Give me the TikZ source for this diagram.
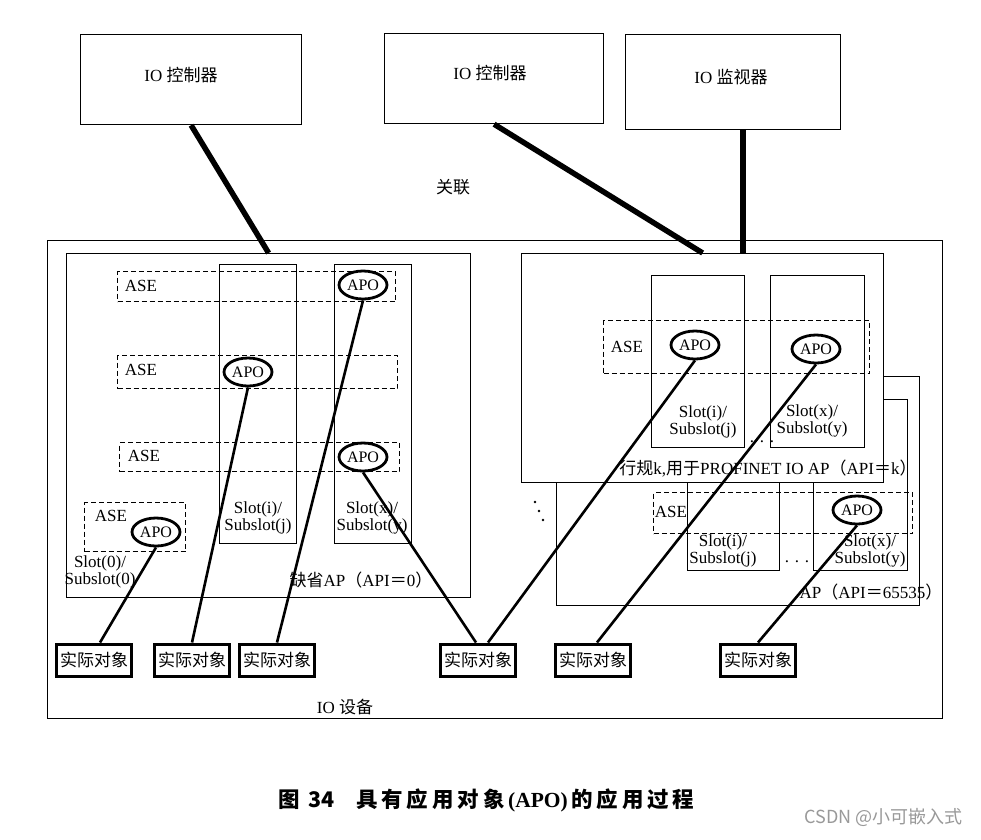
\documentclass[tikz,border=0pt]{standalone}
\usepackage{fontspec}
\setmainfont{Liberation Serif}
\newfontfamily\cjk{Noto Sans CJK SC}
\newfontfamily\capfont[LetterSpace=18]{Noto Sans CJK SC}
\newcommand{\zh}[1]{{\cjk #1}}
\usetikzlibrary{shapes.geometric,positioning}

\begin{document}
\begin{tikzpicture}[
    x=1pt, y=-1pt,
    frame/.style={draw, line width=1.2pt, inner sep=0pt, anchor=north west},
    asebox/.style={draw, dash pattern=on 5pt off 3pt, line width=1pt, inner sep=0pt, anchor=north west},
    apo/.style={draw, ellipse, line width=2.8pt, fill=white, inner sep=0pt,
        minimum width=48pt, minimum height=28pt, font=\fontsize{16}{18}\selectfont},
    obj/.style={draw, line width=3pt, fill=white, inner sep=0pt,
        minimum width=75pt, minimum height=32pt, font=\cjk\fontsize{17}{19}\selectfont},
    lbl/.style={inner sep=0pt, font=\fontsize{17}{19}\selectfont},
    slottxt/.style={inner sep=0pt, align=center, font=\fontsize{17}{17.5}\selectfont},
    title/.style={inner sep=0pt, font=\fontsize{17}{19}\selectfont},
    link/.style={line width=2.6pt},
    assoc/.style={line width=5.5pt}
]
\fill[white] (0,0) rectangle (981,839);
\useasboundingbox (0,0) rectangle (981,839);

% controllers and supervisor
\node[frame, minimum width=221pt, minimum height=90pt] (ctrlA) at (80,34) {};
\node[frame, minimum width=219pt, minimum height=90pt] (ctrlB) at (384,33) {};
\node[frame, minimum width=215pt, minimum height=95pt] (mon) at (625,34) {};
\node[title] (ctrlAtxt) at (181,75) {IO\ \zh{控制器}};
\node[title] (ctrlBtxt) at (490,73) {IO\ \zh{控制器}};
\node[title] (montxt) at (731,77) {IO\ \zh{监视器}};
\node[title] (assoctxt) at (453,187) {\zh{关联}};

% IO device
\node[frame, line width=1.4pt, minimum width=895pt, minimum height=478pt] (dev) at (47,240) {};
\node[title] (devtxt) at (345,707) {IO\ \zh{设备}};

% default AP (API=0)
\node[frame, minimum width=404pt, minimum height=344pt] (ap0) at (66,253) {};
\node[frame, minimum width=77pt, minimum height=279pt] (slotAi) at (219,264) {};
\node[frame, minimum width=77pt, minimum height=279pt] (slotAx) at (334,264) {};
\node[asebox, minimum width=278pt, minimum height=30pt] (aseA1) at (117,271) {};
\node[asebox, minimum width=280pt, minimum height=33pt] (aseA2) at (117,355) {};
\node[asebox, minimum width=280pt, minimum height=29pt] (aseA3) at (119,442) {};
\node[asebox, minimum width=101pt, minimum height=49pt] (aseS0) at (84,502) {};
\node[lbl] (aseA1txt) at (141,286) {ASE};
\node[lbl] (aseA2txt) at (141,370) {ASE};
\node[lbl] (aseA3txt) at (144,456) {ASE};
\node[lbl] (aseS0txt) at (111,516) {ASE};
\node[apo] (apoX1) at (363,285) {APO};
\node[apo] (apoI) at (248,372) {APO};
\node[apo] (apoX3) at (363,457) {APO};
\node[apo] (apoS0) at (156,532) {APO};
\node[slottxt] (slotAitxt) at (258,518) {Slot(i)/\\Subslot(j)};
\node[slottxt] (slotAxtxt) at (372,518) {Slot(x)/\\Subslot(y)};
\node[slottxt] (slotS0txt) at (100,572) {Slot(0)/\\Subslot(0)};
\node[lbl] (ap0txt) at (361,580) {\zh{缺省}AP\zh{（}API\zh{＝}0\zh{）}};

% AP (API=65535)
\node[frame, minimum width=363pt, minimum height=229pt] (apF) at (556,376) {};
\node[frame, minimum width=92pt, minimum height=171pt] (slotFi) at (687,399) {};
\node[frame, minimum width=94pt, minimum height=171pt] (slotFx) at (813,399) {};
\node[asebox, minimum width=259pt, minimum height=41pt] (aseF) at (653,492) {};
\node[lbl] (aseFtxt) at (671,512) {ASE};
\node[apo] (apoF) at (857,510) {APO};
\node[slottxt] (slotFitxt) at (723,551) {Slot(i)/\\Subslot(j)};
\node[slottxt] (slotFxtxt) at (870,551) {Slot(x)/\\Subslot(y)};
\node[lbl] (dotsF) at (797,562) {. . .};
\node[lbl] (apFtxt) at (871,592) {AP\zh{（}API\zh{＝}65535\zh{）}};
\fill (535,502) circle (1.3pt) (539,511) circle (1.3pt) (543,520) circle (1.3pt);

% profile k AP (API=k)
\node[frame, fill=white, minimum width=362pt, minimum height=229pt] (apk) at (521,253) {};
\node[frame, minimum width=93pt, minimum height=172pt] (slotKi) at (651,275) {};
\node[frame, minimum width=94pt, minimum height=172pt] (slotKx) at (770,275) {};
\node[asebox, minimum width=266pt, minimum height=53pt] (aseK) at (603,320) {};
\node[lbl] (aseKtxt) at (627,347) {ASE};
\node[apo] (apoKi) at (695,345) {APO};
\node[apo] (apoKx) at (816,349) {APO};
\node[slottxt] (slotKitxt) at (703,422) {Slot(i)/\\Subslot(j)};
\node[slottxt] (slotKxtxt) at (812,421) {Slot(x)/\\Subslot(y)};
\node[lbl] (dotsK) at (762,442) {. . .};
\node[lbl] (apktxt) at (768,469) {\zh{行规}k,\zh{用于}PROFINET IO AP\zh{（}API\zh{＝}k\zh{）}};

% real objects
\node[obj] (obj1) at (94,660) {实际对象};
\node[obj, right=20pt of obj1] (obj2) {实际对象};
\node[obj, right=7pt of obj2] (obj3) {实际对象};
\node[obj, right=123pt of obj3] (obj4) {实际对象};
\node[obj, right=37pt of obj4] (obj5) {实际对象};
\node[obj, right=87pt of obj5] (obj6) {实际对象};

\draw[link] (apoS0.south) -- ([xshift=6pt]obj1.north);
\draw[link] (apoI.south) -- (obj2.north);
\draw[link] (apoX1.south) -- (obj3.north);
\draw[link] (apoX3.south) -- ([xshift=-2pt]obj4.north);
\draw[link] (apoKi.south) -- ([xshift=10pt]obj4.north);
\draw[link] (apoKx.south) -- ([xshift=4pt]obj5.north);
\draw[link] (apoF.south) -- (obj6.north);

% associations
\draw[assoc] (ctrlA.south) -- (ap0.north);
\draw[assoc] (ctrlB.south) -- (apk.north);
\draw[assoc] ([xshift=10pt]mon.south) -- ([xshift=10pt]mon.south |- apk.north);

% caption
\node[inner sep=0pt, anchor=west, font=\capfont\bfseries\fontsize{21.5}{24}\selectfont] (caption) at (278,800)
    {图\ {\cjk\bfseries 34}\quad 具有应用对象{\rmfamily\,(APO)\,}的应用过程};
\node[inner sep=0pt, anchor=east, text=black!40, font=\cjk\fontsize{18}{20}\selectfont] (mark) at (963,817)
    {CSDN @小可嵌入式};
\end{tikzpicture}
\end{document}
